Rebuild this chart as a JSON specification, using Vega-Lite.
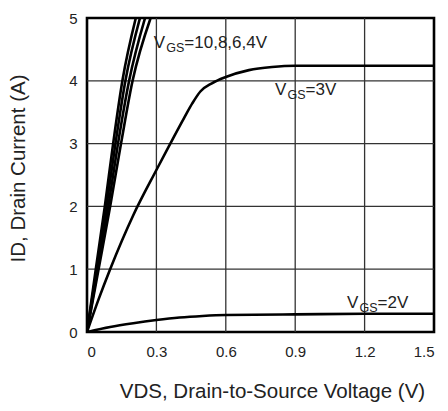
{
  "$schema": "https://vega.github.io/schema/vega-lite/v6.json",
  "width": 347,
  "height": 314,
  "autosize": "none",
  "padding": {"left": 87, "top": 18, "right": 14, "bottom": 79},
  "background": "white",
  "config": {
    "view": {"stroke": "#000", "strokeWidth": 2.6},
    "font": "Liberation Sans",
    "axis": {
      "domain": false,
      "ticks": false,
      "grid": false,
      "labelFont": "Liberation Sans",
      "labelFontSize": 15,
      "labelColor": "#222",
      "titleFont": "Liberation Sans",
      "titleFontSize": 20.5,
      "titleFontWeight": "normal",
      "titleColor": "#222"
    }
  },
  "datasets": {
    "curves": [
      {"vgs": "10V", "vds": 0, "id": 0},
      {"vgs": "10V", "vds": 0.038, "id": 1},
      {"vgs": "10V", "vds": 0.077, "id": 2},
      {"vgs": "10V", "vds": 0.113, "id": 3},
      {"vgs": "10V", "vds": 0.153, "id": 4},
      {"vgs": "10V", "vds": 0.211, "id": 5},
      {"vgs": "8V", "vds": 0, "id": 0},
      {"vgs": "8V", "vds": 0.042, "id": 1},
      {"vgs": "8V", "vds": 0.084, "id": 2},
      {"vgs": "8V", "vds": 0.123, "id": 3},
      {"vgs": "8V", "vds": 0.166, "id": 4},
      {"vgs": "8V", "vds": 0.229, "id": 5},
      {"vgs": "6V", "vds": 0, "id": 0},
      {"vgs": "6V", "vds": 0.046, "id": 1},
      {"vgs": "6V", "vds": 0.092, "id": 2},
      {"vgs": "6V", "vds": 0.134, "id": 3},
      {"vgs": "6V", "vds": 0.182, "id": 4},
      {"vgs": "6V", "vds": 0.251, "id": 5},
      {"vgs": "4V", "vds": 0, "id": 0},
      {"vgs": "4V", "vds": 0.05, "id": 1},
      {"vgs": "4V", "vds": 0.1, "id": 2},
      {"vgs": "4V", "vds": 0.147, "id": 3},
      {"vgs": "4V", "vds": 0.197, "id": 4},
      {"vgs": "4V", "vds": 0.275, "id": 5},
      {"vgs": "3V", "vds": 0, "id": 0},
      {"vgs": "3V", "vds": 0.05, "id": 0.52},
      {"vgs": "3V", "vds": 0.1, "id": 1.0},
      {"vgs": "3V", "vds": 0.2, "id": 1.86},
      {"vgs": "3V", "vds": 0.3, "id": 2.58},
      {"vgs": "3V", "vds": 0.36, "id": 3.0},
      {"vgs": "3V", "vds": 0.42, "id": 3.41},
      {"vgs": "3V", "vds": 0.455, "id": 3.64},
      {"vgs": "3V", "vds": 0.49, "id": 3.83},
      {"vgs": "3V", "vds": 0.54, "id": 3.96},
      {"vgs": "3V", "vds": 0.6, "id": 4.06},
      {"vgs": "3V", "vds": 0.7, "id": 4.17},
      {"vgs": "3V", "vds": 0.8, "id": 4.22},
      {"vgs": "3V", "vds": 0.9, "id": 4.24},
      {"vgs": "3V", "vds": 1.5, "id": 4.24},
      {"vgs": "2V", "vds": 0, "id": 0},
      {"vgs": "2V", "vds": 0.1, "id": 0.08},
      {"vgs": "2V", "vds": 0.2, "id": 0.14},
      {"vgs": "2V", "vds": 0.3, "id": 0.19},
      {"vgs": "2V", "vds": 0.4, "id": 0.23},
      {"vgs": "2V", "vds": 0.5, "id": 0.255},
      {"vgs": "2V", "vds": 0.6, "id": 0.27},
      {"vgs": "2V", "vds": 0.9, "id": 0.28},
      {"vgs": "2V", "vds": 1.2, "id": 0.29},
      {"vgs": "2V", "vds": 1.5, "id": 0.29}
    ],
    "labels": [
      {"vds": 0.289, "id": 4.53, "rest": "=10,8,6,4V"},
      {"vds": 0.813, "id": 3.78, "rest": "=3V"},
      {"vds": 1.124, "id": 0.38, "rest": "=2V"}
    ],
    "gridx": [{"vds": 0.3}, {"vds": 0.6}, {"vds": 0.9}, {"vds": 1.2}],
    "gridy": [{"id": 1}, {"id": 2}, {"id": 3}, {"id": 4}]
  },
  "encoding": {
    "x": {
      "field": "vds",
      "type": "quantitative",
      "scale": {"domain": [0, 1.5], "nice": false},
      "axis": {
        "values": [0, 0.3, 0.6, 0.9, 1.2, 1.5],
        "format": ".1~f",
        "labelPadding": 12,
        "title": "VDS, Drain-to-Source Voltage (V)",
        "titlePadding": 22,
        "titleX": 185
      }
    },
    "y": {
      "field": "id",
      "type": "quantitative",
      "scale": {"domain": [0, 5], "nice": false},
      "axis": {
        "values": [0, 1, 2, 3, 4, 5],
        "format": "d",
        "labelPadding": 10,
        "title": "ID, Drain Current (A)",
        "titlePadding": 40,
        "titleY": 150
      }
    }
  },
  "layer": [
    {
      "data": {"name": "gridx"},
      "mark": {"type": "rule", "color": "#333", "strokeWidth": 1.3},
      "encoding": {"y": null}
    },
    {
      "data": {"name": "gridy"},
      "mark": {"type": "rule", "color": "#333", "strokeWidth": 1.3},
      "encoding": {"x": null}
    },
    {
      "data": {"name": "curves"},
      "mark": {"type": "line", "color": "#000", "strokeWidth": 2.6, "interpolate": "monotone", "clip": true},
      "encoding": {"detail": {"field": "vgs", "type": "nominal"}}
    },
    {
      "data": {"name": "labels"},
      "mark": {"type": "text", "align": "left", "baseline": "alphabetic", "fontSize": 17, "color": "#222"},
      "encoding": {"text": {"value": "V"}}
    },
    {
      "data": {"name": "labels"},
      "mark": {"type": "text", "align": "left", "baseline": "alphabetic", "fontSize": 12.5, "dx": 12.5, "dy": 4, "color": "#222"},
      "encoding": {"text": {"value": "GS"}}
    },
    {
      "data": {"name": "labels"},
      "mark": {"type": "text", "align": "left", "baseline": "alphabetic", "fontSize": 17, "dx": 30.5, "color": "#222"},
      "encoding": {"text": {"field": "rest", "type": "nominal"}}
    }
  ]
}
